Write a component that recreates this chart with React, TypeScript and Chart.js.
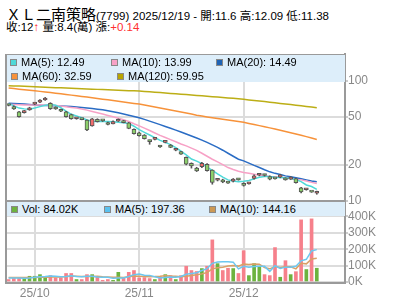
import React, { useEffect, useRef } from "react";
import { Chart, registerables } from "chart.js";

Chart.register(...registerables);

const FONT = '"Liberation Sans", Arial, "Noto Sans CJK TC", sans-serif';
const CJK = '"Noto Sans CJK TC", "Liberation Sans", sans-serif';

const stockName = "ＸＬ二南策略";
const stockCode = "7799";

const dates = [
  "2025-09-23", "2025-09-24", "2025-09-25", "2025-09-26", "2025-09-30",
  "2025-10-01", "2025-10-02", "2025-10-03", "2025-10-07", "2025-10-08", "2025-10-09",
  "2025-10-13", "2025-10-14", "2025-10-15", "2025-10-16", "2025-10-17",
  "2025-10-20", "2025-10-21", "2025-10-22", "2025-10-23",
  "2025-10-27", "2025-10-28", "2025-10-29", "2025-10-30", "2025-10-31",
  "2025-11-03", "2025-11-04", "2025-11-05", "2025-11-06", "2025-11-07",
  "2025-11-10", "2025-11-11", "2025-11-12", "2025-11-13", "2025-11-14",
  "2025-11-17", "2025-11-18", "2025-11-19", "2025-11-20", "2025-11-21",
  "2025-11-24", "2025-11-25", "2025-11-26", "2025-11-27", "2025-11-28",
  "2025-12-01", "2025-12-02", "2025-12-03", "2025-12-04", "2025-12-05",
  "2025-12-08", "2025-12-09", "2025-12-10", "2025-12-11", "2025-12-12",
  "2025-12-15", "2025-12-16", "2025-12-17", "2025-12-18", "2025-12-19",
];

const openP = [
  63, 61.2, 55.5, 54.5, 57.3, 64.2, 66.6, 69.5, 65.3, 60,
  58, 55.5, 52.6, 48.5, 48.1, 47.3, 42.2, 48, 47, 44.9,
  44, 46.2, 46.6, 44.9, 39.5, 37, 35.5, 31.7, 32.6, 28.6,
  30.8, 29.3, 26.5, 25.8, 23.1, 20.6, 18.8, 19.3, 20.2, 18.1,
  14.9, 15, 14.3, 14.6, 15.2, 14, 13.9, 15.4, 16.4, 16.5,
  16, 15.5, 15.8, 15.4, 15.2, 15.4, 12.9, 12.4, 11.95, 11.6,
];
const highP = [
  64, 62, 56, 57, 60.5, 66, 70, 73, 66, 61,
  58.5, 56, 53, 49.5, 48.5, 47.5, 48.8, 48.5, 47.5, 45.5,
  46.5, 48.3, 47, 45.2, 40, 37.5, 35.8, 32.2, 33.5, 29,
  31.5, 29.6, 27, 26, 23.3, 20.8, 19.1, 21, 20.5, 18.2,
  15.3, 15.2, 14.5, 15.4, 15.4, 14.2, 14.3, 16.5, 16.8, 16.7,
  16.2, 15.7, 16.7, 15.6, 16, 15.5, 13, 12.7, 12, 12.09,
];
const lowP = [
  62, 58, 50, 54, 57, 63.5, 66, 69, 58, 58,
  55.5, 50, 48, 48, 47.5, 38.5, 42, 45.5, 46, 43,
  43.8, 46, 44.8, 40, 36, 34.7, 32.8, 29.7, 32.3, 28,
  30.5, 27.8, 26.2, 24.4, 20, 18.8, 17.6, 19, 17.7, 13.8,
  14.7, 14.2, 14, 14.4, 14.9, 13.3, 13.8, 15.2, 16.2, 16.1,
  15, 15.2, 15.6, 14.9, 15.1, 14.1, 11.7, 12.3, 11.8, 11.38,
];
const closeP = [
  62.5, 58.5, 50.5, 56.5, 59.8, 64.8, 69.5, 72, 58.7, 58.5,
  56, 50.5, 48.5, 48.9, 47.7, 39.2, 48.3, 45.8, 46.6, 43.4,
  45.9, 47.9, 45, 40.3, 36.4, 35, 33, 31.3, 33, 28.2,
  31.2, 28, 26.8, 24.6, 20.3, 19.6, 17.8, 20.6, 17.9, 14.3,
  15.1, 14.4, 14.1, 15.2, 15, 13.5, 14.1, 16.2, 16.6, 16.3,
  15.2, 15.3, 16.5, 15, 15.8, 14.2, 11.9, 12.6, 11.86, 12,
];

const ma5 = [
  65.2, 62.0, 59.5, 58.6, 58.2, 59.6, 61.2, 62.8, 63.8, 62.8,
  60.0, 56.0, 52.8, 51.2, 49.5, 47.4, 46.3, 46.0, 45.9, 45.9,
  45.7, 45.4, 45.0, 44.3, 42.0, 39.3, 37.3, 35.5, 33.8, 32.0,
  30.8, 29.5, 27.8, 26.0, 24.2, 22.4, 21.5, 20.5, 19.2, 18.0,
  16.8, 15.8, 15.0, 14.7, 14.5, 14.6, 14.8, 15.3, 15.8, 16.0,
  16.0, 15.8, 15.7, 15.6, 15.4, 15.1, 14.5, 13.6, 13.2, 12.49,
];
const ma10 = [
  63.9, 63.7, 63.4, 63.2, 63.0, 63.0, 63.1, 63.2, 63.0, 62.5,
  61.8, 61.0, 60.3, 59.6, 58.5, 57.2, 55.8, 54.5, 53.1, 51.7,
  50.3, 49.0, 47.7, 46.0, 44.0, 42.3, 40.5, 38.7, 36.9, 35.2,
  33.8, 32.5, 31.2, 29.9, 28.8, 27.6, 26.4, 25.0, 23.6, 22.3,
  21.2, 20.1, 19.0, 18.3, 17.7, 17.3, 17.0, 16.7, 16.5, 16.2,
  16.0, 15.9, 15.8, 15.6, 15.4, 15.2, 15.0, 14.7, 14.3, 13.99,
];
const ma20 = [
  65.2, 65.0, 64.7, 64.2, 63.6, 63.0, 62.8, 62.6, 62.4, 62.1,
  61.9, 61.6, 61.2, 60.7, 60.1, 59.5, 58.9, 58.3, 57.6, 56.6,
  55.5, 54.3, 53.1, 51.9, 50.7, 49.5, 47.9, 46.3, 44.8, 43.3,
  41.8, 40.4, 39.0, 37.6, 36.2, 34.8, 33.5, 32.2, 30.8, 29.4,
  28.0, 26.5, 25.0, 23.6, 22.3, 21.6, 20.7, 19.8, 19.0, 18.2,
  17.5, 17.0, 16.6, 16.2, 15.9, 15.6, 15.3, 15.0, 14.7, 14.49,
];
const ma60 = [
  87.4, 86.5, 85.6, 84.7, 83.9, 83.0, 82.0, 81.1, 80.1, 79.2,
  78.2, 77.3, 76.3, 75.4, 74.4, 73.5, 72.5, 71.6, 70.6, 69.7,
  68.8, 67.8, 66.9, 66.0, 65.1, 64.3, 63.1, 61.9, 60.7, 59.6,
  58.5, 57.4, 56.3, 55.2, 54.1, 53.0, 51.9, 51.0, 50.2, 49.5,
  48.8, 48.0, 47.3, 46.6, 45.9, 45.3, 44.3, 43.4, 42.5, 41.6,
  40.7, 39.8, 38.9, 38.0, 37.1, 36.2, 35.3, 34.4, 33.5, 32.59,
];
const ma120 = [
  91.4, 91.0, 90.7, 90.3, 89.9, 89.6, 89.2, 88.9, 88.5, 88.1,
  87.8, 87.4, 87.0, 86.7, 86.3, 86.0, 85.6, 85.2, 84.9, 84.5,
  84.1, 83.8, 83.4, 83.1, 82.8, 82.5, 81.9, 81.3, 80.7, 80.1,
  79.5, 78.9, 78.3, 77.7, 77.1, 76.5, 75.9, 75.3, 74.7, 74.1,
  73.5, 72.9, 72.3, 71.7, 71.1, 70.4, 69.6, 68.9, 68.1, 67.4,
  66.6, 65.9, 65.1, 64.4, 63.6, 62.9, 62.1, 61.4, 60.7, 59.95,
];

// volume in thousands of shares (K)
const volumeK = [
  15, 27, 27, 21, 35, 35, 45, 29, 39, 25,
  25, 52, 52, 15, 15, 45, 45, 31, 10, 15,
  10, 59, 27, 59, 70, 25, 27, 21, 15, 31,
  45, 39, 15, 39, 96, 70, 64, 82, 96, 257,
  112, 70, 84, 82, 52, 191, 39, 112, 90, 45,
  39, 210, 29, 130, 45, 63, 379, 76, 385, 84.02,
];
const volMa5 = [
  25, 25, 24, 23, 25, 29, 32.6, 33, 36.6, 34.6,
  32.6, 34, 38.6, 33.8, 31.8, 35.8, 34.4, 30.2, 29.2, 29.2,
  22.2, 25, 24.2, 34, 45, 48, 41.6, 40.4, 31.6, 23.8,
  27.8, 30.2, 29, 33.8, 46.8, 51.8, 56.8, 70.2, 81.6, 113.8,
  122.2, 123.4, 123.8, 121, 80, 95.8, 89.6, 95.2, 96.8, 95.4,
  65, 99.2, 82.6, 90.6, 90.6, 95.4, 129.2, 138.6, 189.6, 197.36,
];
const volMa10 = [
  27, 27, 27, 27, 27, 27, 28.8, 28.5, 29.8, 29.8,
  30.8, 33.3, 35.8, 35.2, 33.2, 34.2, 34.2, 34.4, 31.5, 30.5,
  29, 29.7, 27.2, 31.6, 37.1, 35.1, 33.3, 32.3, 32.8, 34.4,
  37.9, 35.9, 34.7, 32.7, 35.3, 39.8, 43.5, 49.6, 57.7, 80.3,
  87, 90.1, 97, 101.3, 96.9, 109, 106.5, 109.5, 108.9, 87.7,
  80.4, 94.4, 88.9, 93.7, 93, 80.2, 114.2, 110.6, 140.1, 144.16,
];

const priceTicks = [10, 20, 50, 100];
const volTicksK = [0, 100, 200, 300, 400];

// ---- derived helpers ----
const N = dates.length;
const LAST = N - 1;
const monthStarts = dates
  .map((d, i) => (i > 0 && d.slice(5, 7) !== dates[i - 1].slice(5, 7) ? i : -1))
  .filter((i) => i >= 0);
const monthLabel = (i: number) => dates[i].slice(2, 4) + "/" + dates[i].slice(5, 7);
const idx = dates.map((_, i) => i);
const isUp = idx.map((i) => closeP[i] > openP[i]);

const X_MIN = -0.5;
const X_MAX = N + 4.4;

const C = {
  ma5: "#4fd8d8",
  ma10: "#f7a1c6",
  ma20: "#2a6cc4",
  ma60: "#f7923a",
  ma120: "#bcae16",
  candleUp: "#f26d6d",
  candleDown: "#8ccf6b",
  candleEdge: "#555555",
  volRed: "#f6808b",
  volGreen: "#6db33f",
  volMa5: "#6cc7f0",
  volMa10: "#d9a066",
  grid: "#dcdcdc",
  frame: "#9a9a9a",
  label: "#888888",
  legendBg: "#ddeefa",
};

const fmt2 = (v: number) => v.toFixed(2);

function xScale(showLabels: boolean, height: number) {
  return {
    type: "linear",
    min: X_MIN,
    max: X_MAX,
    offset: false,
    afterBuildTicks: (s: any) => {
      s.ticks = monthStarts.map((v) => ({ value: v }));
    },
    afterFit: (s: any) => {
      s.height = height;
    },
    ticks: {
      display: showLabels,
      autoSkip: false,
      maxRotation: 0,
      padding: 4,
      color: C.label,
      font: { family: FONT, size: 12 },
      callback: (v: any) => monthLabel(Number(v)),
    },
    grid: { color: C.grid, lineWidth: 2, drawTicks: false, offset: false },
    border: { display: false },
  };
}

function lineDs(values: number[], color: string, order: number, yAxisID = "y", width = 1.5) {
  return {
    type: "line",
    data: values.map((v, i) => ({ x: i, y: v })),
    borderColor: color,
    borderWidth: width,
    pointRadius: 0,
    tension: 0,
    fill: false,
    yAxisID,
    order,
  };
}

function PriceChart() {
  const ref = useRef<HTMLCanvasElement>(null);
  useEffect(() => {
    const chart = new Chart(ref.current as HTMLCanvasElement, {
      type: "bar",
      data: {
        datasets: [
          {
            type: "bar",
            data: idx.map((i) => ({ x: i, y: [openP[i], closeP[i]] })),
            backgroundColor: idx.map((i) => (isUp[i] ? C.candleUp : C.candleDown)),
            borderColor: C.candleEdge,
            borderWidth: 1,
            borderSkipped: false,
            barThickness: 4,
            minBarLength: 2,
            grouped: false,
            yAxisID: "y",
            order: 0,
          },
          {
            type: "bar",
            data: idx.map((i) => ({ x: i, y: [lowP[i], highP[i]] })),
            backgroundColor: C.candleEdge,
            borderWidth: 0,
            barThickness: 1,
            grouped: false,
            yAxisID: "y",
            order: 1,
          },
          lineDs(ma5, C.ma5, 2),
          lineDs(ma10, C.ma10, 3),
          lineDs(ma20, C.ma20, 4),
          lineDs(ma60, C.ma60, 5),
          lineDs(ma120, C.ma120, 6),
        ] as any,
      },
      options: {
        animation: false,
        responsive: false,
        devicePixelRatio: 1,
        events: [],
        layout: { padding: { left: 6, right: 0, top: 10, bottom: 10 } },
        plugins: { legend: { display: false }, tooltip: { enabled: false } },
        scales: {
          x: xScale(false, 0) as any,
          y: {
            type: "logarithmic",
            position: "right",
            min: 10,
            max: 168,
            afterBuildTicks: (s: any) => {
              s.ticks = priceTicks.map((v) => ({ value: v }));
            },
            afterFit: (s: any) => {
              s.width = 55;
            },
            ticks: {
              color: C.label,
              padding: 0,
              autoSkip: false,
              font: { family: FONT, size: 12 },
              callback: (v: any) => String(v),
            },
            grid: { color: C.grid, lineWidth: 2, tickLength: 3, tickColor: C.frame, tickWidth: 1 },
            border: { display: true, color: C.frame, width: 2 },
          } as any,
        },
      },
    });
    return () => chart.destroy();
  }, []);
  return (
    <canvas
      ref={ref}
      width={400}
      height={167}
      style={{ position: "absolute", left: 0, top: 44, width: 400, height: 167 }}
    />
  );
}

function VolumeChart() {
  const ref = useRef<HTMLCanvasElement>(null);
  useEffect(() => {
    const chart = new Chart(ref.current as HTMLCanvasElement, {
      type: "bar",
      data: {
        datasets: [
          lineDs(volMa5, C.volMa5, 0),
          lineDs(volMa10, C.volMa10, 1),
          {
            type: "bar",
            data: idx.map((i) => ({ x: i, y: volumeK[i] })),
            // this chart colours volume green on up-candles and red otherwise
            backgroundColor: idx.map((i) => (isUp[i] ? C.volGreen : C.volRed)),
            borderWidth: 0,
            barThickness: 3,
            grouped: false,
            yAxisID: "y",
            order: 2,
          },
        ] as any,
      },
      options: {
        animation: false,
        responsive: false,
        devicePixelRatio: 1,
        events: [],
        layout: { padding: { left: 6, right: 0, top: 10, bottom: 0 } },
        plugins: { legend: { display: false }, tooltip: { enabled: false } },
        scales: {
          x: xScale(true, 19) as any,
          y: {
            type: "linear",
            position: "right",
            min: 0,
            max: 488,
            afterBuildTicks: (s: any) => {
              s.ticks = volTicksK.map((v) => ({ value: v }));
            },
            afterFit: (s: any) => {
              s.width = 55;
            },
            ticks: {
              color: C.label,
              padding: 0,
              autoSkip: false,
              font: { family: FONT, size: 12 },
              callback: (v: any) => v + "K",
            },
            grid: { color: C.grid, lineWidth: 2, tickLength: 3, tickColor: C.frame, tickWidth: 1 },
            border: { display: true, color: C.frame, width: 2 },
          } as any,
        },
      },
    });
    return () => chart.destroy();
  }, []);
  return (
    <canvas
      ref={ref}
      width={400}
      height={109}
      style={{ position: "absolute", left: 0, top: 192, width: 400, height: 109 }}
    />
  );
}

function LegendItem({ left, top, color, text }: { left: number; top: number; color: string; text: string }) {
  return (
    <>
      <div
        style={{
          position: "absolute",
          left,
          top: top + 3,
          width: 5,
          height: 5,
          border: "1px solid #888",
          background: color,
        }}
      />
      <div
        style={{
          position: "absolute",
          left: left + 11,
          top: top - 1,
          height: 14,
          lineHeight: "14px",
          fontFamily: FONT,
          fontSize: 11,
          color: "#000",
          whiteSpace: "nowrap",
        }}
      >
        {text}
      </div>
    </>
  );
}

function Line({ left, top, width, height }: { left: number; top: number; width: number; height: number }) {
  return <div style={{ position: "absolute", left, top, width, height, background: C.frame }} />;
}

export default function App() {
  const change = closeP[LAST] - closeP[LAST - 1];
  const changeText = (change >= 0 ? "+" : "") + change.toFixed(2);
  const volWan = (volumeK[LAST] / 10).toFixed(1);
  const dateText = dates[LAST].replace(/-/g, "/");
  return (
    <div
      style={{
        position: "absolute",
        left: 0,
        top: 0,
        width: 400,
        height: 301,
        background: "#fff",
        overflow: "hidden",
        fontFamily: FONT,
      }}
    >
      <div
        style={{
          position: "absolute",
          left: 6,
          top: 4,
          height: 20,
          lineHeight: "20px",
          whiteSpace: "nowrap",
          color: "#000",
        }}
      >
        <span style={{ fontFamily: CJK, fontSize: 15 }}>{stockName}</span>
        <span style={{ fontSize: 11.5 }}>
          ({stockCode}) {dateText} - 開:{openP[LAST]} 高:{highP[LAST]} 低:{lowP[LAST]}
        </span>
      </div>
      <div
        style={{
          position: "absolute",
          left: 6,
          top: 19,
          height: 16,
          lineHeight: "16px",
          whiteSpace: "nowrap",
          color: "#000",
          fontSize: 11.5,
        }}
      >
        收:{closeP[LAST]}
        <span style={{ color: "#ff2020", fontWeight: "bold" }}>↑</span> 量:{volWan}(萬) 漲:
        <span style={{ color: "#ff3030" }}>{changeText}</span>
      </div>

      <VolumeChart />
      <PriceChart />

      {/* price legend */}
      <div style={{ position: "absolute", left: 6, top: 54, width: 339, height: 28, background: C.legendBg }} />
      <LegendItem left={10} top={56} color={C.ma5} text={"MA(5): " + fmt2(ma5[LAST])} />
      <LegendItem left={111} top={56} color={C.ma10} text={"MA(10): " + fmt2(ma10[LAST])} />
      <LegendItem left={216} top={56} color={"#1e63b5"} text={"MA(20): " + fmt2(ma20[LAST])} />
      <LegendItem left={11} top={70} color={C.ma60} text={"MA(60): " + fmt2(ma60[LAST])} />
      <LegendItem left={117} top={70} color={"#b8a400"} text={"MA(120): " + fmt2(ma120[LAST])} />

      {/* volume legend */}
      <div style={{ position: "absolute", left: 6, top: 202, width: 339, height: 14, background: C.legendBg }} />
      <LegendItem left={11} top={203} color={C.volGreen} text={"Vol: " + fmt2(volumeK[LAST]) + "K"} />
      <LegendItem left={104} top={203} color={"#59c1ef"} text={"MA(5): " + fmt2(volMa5[LAST])} />
      <LegendItem left={209} top={203} color={"#cc9955"} text={"MA(10): " + fmt2(volMa10[LAST])} />

      {/* frame */}
      <Line left={5} top={54} width={341} height={1} />
      <Line left={5} top={54} width={2} height={230} />
      <Line left={5} top={200} width={341} height={2} />
      <Line left={5} top={282} width={341} height={2} />
    </div>
  );
}
